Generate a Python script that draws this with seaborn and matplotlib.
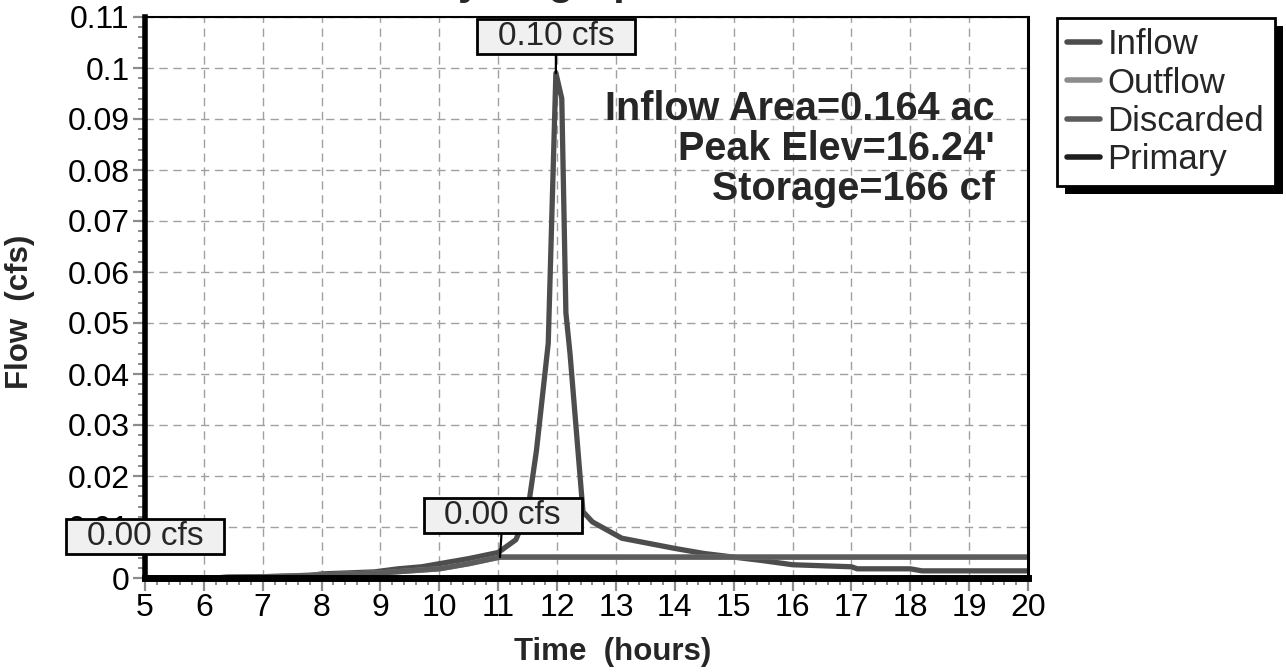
import numpy as np
import pandas as pd
import matplotlib
matplotlib.use("Agg")
import matplotlib.pyplot as plt
import seaborn as sns
from matplotlib.path import Path
from matplotlib.patches import Rectangle
from matplotlib.ticker import MultipleLocator, AutoMinorLocator, FuncFormatter

# hydrograph values (hours, cfs)
inflow_hours = [5.0, 6.2, 6.4, 7.7, 8.0, 8.9, 9.3, 9.7, 10.0, 10.5, 11.0, 11.3, 11.5,
                11.65, 11.85, 11.98, 12.08, 12.15, 12.22, 12.44, 12.6, 13.1, 14.0,
                14.5, 15.0, 15.5, 16.0, 17.0, 17.1, 18.0, 18.2, 20.0]
inflow_cfs = [0.0, 0.0, 0.0002, 0.0003, 0.0008, 0.0012, 0.0018, 0.0022, 0.0028, 0.0038,
              0.0050, 0.0075, 0.013, 0.025, 0.046, 0.099, 0.094, 0.052, 0.044, 0.013,
              0.011, 0.0078, 0.0058, 0.0048, 0.0041, 0.0034, 0.0026, 0.0022, 0.0018,
              0.0018, 0.0014, 0.0014]

discarded_hours = [5.0, 6.3, 8.0, 9.0, 10.0, 10.5, 11.03, 20.0]
discarded_cfs = [0.0, 0.0, 0.0006, 0.0010, 0.0018, 0.0028, 0.0041, 0.0041]

outflow_hours = discarded_hours
outflow_cfs = discarded_cfs

primary_hours = [5.0, 20.0]
primary_cfs = [0.0, 0.0]

series_names = ["Inflow", "Outflow", "Discarded", "Primary"]
series_colors = ["#4d4d4d", "#8c8c8c", "#5c5c5c", "#1e1e1e"]

info_lines = ["Inflow Area=0.164 ac", "Peak Elev=16.24'", "Storage=166 cf"]

sns.set_theme(style="white")
plt.rcParams["font.family"] = ["Liberation Sans", "DejaVu Sans"]

fig = plt.figure(figsize=(12.86, 6.72), dpi=100)
ax = fig.add_axes([145 / 1286, 94 / 672, 883 / 1286, 561 / 672])

data = [(inflow_hours, inflow_cfs), (outflow_hours, outflow_cfs),
        (discarded_hours, discarded_cfs), (primary_hours, primary_cfs)]
for (hrs, cfs), name, col in zip(data, series_names, series_colors):
    df = pd.DataFrame({"hours": hrs, "cfs": cfs})
    sns.lineplot(data=df, x="hours", y="cfs", ax=ax, color=col, lw=3.8,
                 label=name, sort=False, zorder=3)
if ax.get_legend() is not None:
    ax.get_legend().remove()

ax.set_xlim(5, 20)
ax.set_ylim(0, 0.11)
ax.xaxis.set_major_locator(MultipleLocator(1))
ax.xaxis.set_minor_locator(AutoMinorLocator(5))
ax.yaxis.set_major_locator(MultipleLocator(0.01))
ax.yaxis.set_minor_locator(AutoMinorLocator(5))
ax.yaxis.set_major_formatter(FuncFormatter(lambda v, p: "%g" % round(v, 4)))

ax.grid(True, which="major", ls=(0, (6, 4)), color="#a0a0a0", lw=1)
ax.tick_params(which="major", direction="out", length=9, width=1.6, color="#8c8c8c",
               labelsize=23, labelcolor="black", pad=2, bottom=True, left=True)
ax.tick_params(which="minor", direction="out", length=5, width=1.4, color="#8c8c8c",
               bottom=True, left=True)

for side, lw in [("left", 4), ("bottom", 5), ("top", 1.5), ("right", 2.2)]:
    ax.spines[side].set_color("black")
    ax.spines[side].set_linewidth(lw)
    ax.spines[side].set_zorder(4)

ax.set_xlabel("Time  (hours)", fontsize=22.5, fontweight="bold", va="center")
ax.set_ylabel("Flow  (cfs)", fontsize=22.5, fontweight="bold", va="center")
ax.xaxis.set_label_coords(0.53, -0.132)
ax.yaxis.set_label_coords(-0.1416, 0.474)

fig.text(0.425, 1.009, "Hydrograph", fontsize=30, fontweight="bold", ha="center",
         va="baseline")

# info block
for i, line in enumerate(info_lines):
    ax.text(0.9626, 0.816 - i * 0.071, line, transform=ax.transAxes, ha="right",
            va="baseline", fontsize=28.5, fontweight="bold", zorder=5)


# wide label box like the HydroCAD peak tags
def tag_box(x0, y0, width, height, mutation_size):
    px = 0.62 * mutation_size
    py = 0.06 * mutation_size
    x0, y0 = x0 - px, y0 - py
    x1, y1 = x0 + width + 2 * px, y0 + height + 2 * py
    return Path([(x0, y0), (x1, y0), (x1, y1), (x0, y1), (x0, y0)], closed=True)


peaks = [
    (inflow_hours[int(np.argmax(inflow_cfs))], max(inflow_cfs), (0, 26)),
    (discarded_hours[int(np.argmax(discarded_cfs))], max(discarded_cfs), (2, 30)),
    (primary_hours[0], max(primary_cfs), (0, 30)),
]
for hx, hy, off in peaks:
    ax.annotate("%.2f cfs" % hy, xy=(hx, hy), xytext=off, textcoords="offset points",
                ha="center", va="center", fontsize=24, zorder=10, annotation_clip=False,
                bbox=dict(boxstyle=tag_box, fc="#f0f0f0", ec="black", lw=2),
                arrowprops=dict(arrowstyle="-", color="black", lw=1.6,
                                shrinkA=0, shrinkB=0))

handles, labels = ax.get_legend_handles_labels()
leg = fig.legend(handles, labels, loc="upper left",
                 bbox_to_anchor=(1057 / 1286, 1 - 18 / 672), borderaxespad=0,
                 fontsize=25, frameon=True, fancybox=False, handlelength=0.95,
                 handletextpad=0.2, labelspacing=0.15, borderpad=0.3)
leg.get_frame().set_edgecolor("black")
leg.get_frame().set_linewidth(2)
leg.get_frame().set_alpha(1)
leg.set_zorder(6)
for h in leg.legend_handles:
    h.set_linewidth(4)

fig.canvas.draw()
bb = leg.get_window_extent()
inv = fig.transFigure.inverted()
(sx0, sy0) = inv.transform((bb.x0 + 8, bb.y0 - 8))
(sx1, sy1) = inv.transform((bb.x1 + 8, bb.y1 - 8))
fig.patches.append(Rectangle((sx0, sy0), sx1 - sx0, sy1 - sy0, transform=fig.transFigure,
                             facecolor="black", edgecolor="none", zorder=5))

fig.savefig("out.png", dpi=100)
